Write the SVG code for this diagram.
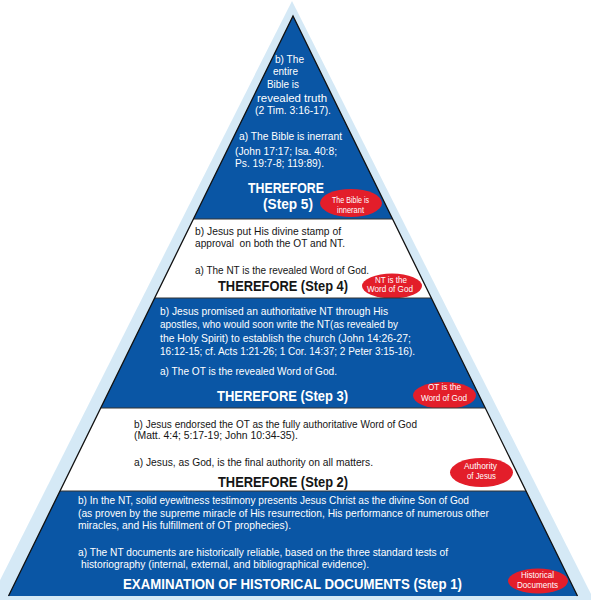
<svg xmlns="http://www.w3.org/2000/svg" width="591" height="600" viewBox="0 0 591 600">
<style>
.bg{fill:#d5e9f6}
.blue{fill:#0a56a5}
.white{fill:#ffffff}
.edge{fill:none;stroke:#111;stroke-width:1.3;stroke-linejoin:miter}
.sep{stroke:#333;stroke-width:1}
.t{font-family:"Liberation Sans",Arial,sans-serif;font-size:11.5px}
.w{fill:#ffffff}
.k{fill:#151515}
.h{font-family:"Liberation Sans",Arial,sans-serif;font-size:15px;font-weight:bold}
.oval{fill:#e31e2a}
.ot{font-family:"Liberation Sans",Arial,sans-serif;font-size:9px;fill:#ffffff}
</style>
<rect width="591" height="600" fill="#ffffff"/>
<polygon class="bg" points="292,1 -10,600 594,600"/>

<g id="step5">
<polygon class="blue" points="293,16 392.6,219 193.4,219"/>
<text class="t w" x="275" y="62.7" textLength="29" lengthAdjust="spacingAndGlyphs">b) The</text>
<text class="t w" x="273" y="75.3" textLength="25" lengthAdjust="spacingAndGlyphs">entire</text>
<text class="t w" x="267" y="88.3" textLength="32" lengthAdjust="spacingAndGlyphs">Bible is</text>
<text class="t w" x="257" y="101.7" textLength="70" lengthAdjust="spacingAndGlyphs">revealed truth</text>
<text class="t w" x="255" y="114.3" textLength="76" lengthAdjust="spacingAndGlyphs">(2 Tim. 3:16-17).</text>
<text class="t w" x="239" y="140" textLength="103" lengthAdjust="spacingAndGlyphs">a) The Bible is inerrant</text>
<text class="t w" x="235" y="154.5" textLength="102" lengthAdjust="spacingAndGlyphs">(John 17:17; Isa. 40:8;</text>
<text class="t w" x="235" y="167" textLength="89" lengthAdjust="spacingAndGlyphs">Ps. 19:7-8; 119:89).</text>
<text class="h w" x="248" y="193.3" textLength="76" lengthAdjust="spacingAndGlyphs">THEREFORE</text>
<text class="h w" x="263" y="209.3" textLength="50" lengthAdjust="spacingAndGlyphs">(Step 5)</text>
<ellipse class="oval" cx="351" cy="203" rx="31" ry="14"/>
<text class="ot" x="350.5" y="203.3" text-anchor="middle" textLength="37" lengthAdjust="spacingAndGlyphs">The Bible is</text>
<text class="ot" x="350.5" y="213" text-anchor="middle" textLength="27" lengthAdjust="spacingAndGlyphs">innerant</text>
</g>

<g id="step4">
<polygon class="white" points="193.4,219 392.6,219 431.3,298 154.7,298"/>
<text class="t k" x="195" y="235" textLength="146" lengthAdjust="spacingAndGlyphs">b) Jesus put His divine stamp of</text>
<text class="t k" x="195" y="246.7" textLength="150" lengthAdjust="spacingAndGlyphs" style="white-space:pre">approval  on both the OT and NT.</text>
<text class="t k" x="195" y="274.3" textLength="174" lengthAdjust="spacingAndGlyphs" style="font-size:10.2px">a) The NT is the revealed Word of God.</text>
<text class="h k" x="218" y="291" textLength="130" lengthAdjust="spacingAndGlyphs">THEREFORE (Step 4)</text>
<ellipse class="oval" cx="392" cy="286" rx="30" ry="12.5"/>
<text class="ot" x="391" y="282.5" text-anchor="middle" textLength="32" lengthAdjust="spacingAndGlyphs">NT is the</text>
<text class="ot" x="390" y="292.4" text-anchor="middle" textLength="46" lengthAdjust="spacingAndGlyphs">Word of God</text>
</g>

<g id="step3">
<polygon class="blue" points="154.7,298 431.3,298 485.3,408 100.7,408"/>
<text class="t w" x="160" y="315" textLength="228" lengthAdjust="spacingAndGlyphs">b) Jesus promised an authoritative NT through His</text>
<text class="t w" x="160" y="328.3" textLength="238" lengthAdjust="spacingAndGlyphs">apostles, who would soon write the NT(as revealed by</text>
<text class="t w" x="160" y="341.7" textLength="251" lengthAdjust="spacingAndGlyphs">the Holy Spirit) to establish the church (John 14:26-27;</text>
<text class="t w" x="160" y="355" textLength="255" lengthAdjust="spacingAndGlyphs">16:12-15; cf. Acts 1:21-26; 1 Cor. 14:37; 2 Peter 3:15-16).</text>
<text class="t w" x="160" y="375" textLength="177" lengthAdjust="spacingAndGlyphs">a) The OT is the revealed Word of God.</text>
<text class="h w" x="217" y="401" textLength="131" lengthAdjust="spacingAndGlyphs">THEREFORE (Step 3)</text>
<ellipse class="oval" cx="444.5" cy="395.5" rx="31.5" ry="13.5"/>
<text class="ot" x="444.5" y="390" text-anchor="middle" textLength="33" lengthAdjust="spacingAndGlyphs">OT is the</text>
<text class="ot" x="444" y="400.7" text-anchor="middle" textLength="46" lengthAdjust="spacingAndGlyphs">Word of God</text>
</g>

<g id="step2">
<polygon class="white" points="100.7,408 485.3,408 526,491 60,491"/>
<text class="t k" x="134" y="427.7" textLength="283" lengthAdjust="spacingAndGlyphs">b) Jesus endorsed the OT as the fully authoritative Word of God</text>
<text class="t k" x="134" y="439.3" textLength="164" lengthAdjust="spacingAndGlyphs">(Matt. 4:4; 5:17-19; John 10:34-35).</text>
<text class="t k" x="134" y="466" textLength="239" lengthAdjust="spacingAndGlyphs">a) Jesus, as God, is the final authority on all matters.</text>
<text class="h k" x="218" y="486.5" textLength="130" lengthAdjust="spacingAndGlyphs">THEREFORE (Step 2)</text>
<ellipse class="oval" cx="481.5" cy="472.5" rx="31.5" ry="14.5"/>
<text class="ot" x="480.5" y="469" text-anchor="middle" textLength="33" lengthAdjust="spacingAndGlyphs">Authority</text>
<text class="ot" x="481.5" y="479.3" text-anchor="middle" textLength="29" lengthAdjust="spacingAndGlyphs">of Jesus</text>
</g>

<g id="step1">
<polygon class="blue" points="60,491 526,491 577.5,596 8.5,596"/>
<text class="t w" x="78" y="504" textLength="391" lengthAdjust="spacingAndGlyphs">b) In the NT, solid eyewitness testimony presents Jesus Christ as the divine Son of God</text>
<text class="t w" x="78" y="516.7" textLength="411" lengthAdjust="spacingAndGlyphs">(as proven by the supreme miracle of His resurrection, His performance of numerous other</text>
<text class="t w" x="78" y="529.3" textLength="213" lengthAdjust="spacingAndGlyphs">miracles, and His fulfillment of OT prophecies).</text>
<text class="t w" x="78" y="556" textLength="370" lengthAdjust="spacingAndGlyphs">a) The NT documents are historically reliable, based on the three standard tests of</text>
<text class="t w" x="81" y="568.3" textLength="288" lengthAdjust="spacingAndGlyphs">historiography (internal, external, and bibliographical evidence).</text>
<text class="h w" x="123" y="589.3" textLength="339" lengthAdjust="spacingAndGlyphs">EXAMINATION OF HISTORICAL DOCUMENTS (Step 1)</text>
<ellipse class="oval" cx="538" cy="581" rx="30" ry="12.5"/>
<text class="ot" x="537.5" y="578.3" text-anchor="middle" textLength="33" lengthAdjust="spacingAndGlyphs">Historical</text>
<text class="ot" x="537.5" y="588.3" text-anchor="middle" textLength="41" lengthAdjust="spacingAndGlyphs">Documents</text>
</g>

<g id="outline">
<line class="sep" x1="193.4" y1="219" x2="392.6" y2="219"/>
<line class="sep" x1="154.7" y1="298" x2="431.3" y2="298"/>
<line class="sep" x1="100.7" y1="408" x2="485.3" y2="408"/>
<line class="sep" x1="60" y1="491" x2="526" y2="491"/>
<polyline class="edge" points="8.5,596 293,16 577.5,596"/>
</g>
</svg>
